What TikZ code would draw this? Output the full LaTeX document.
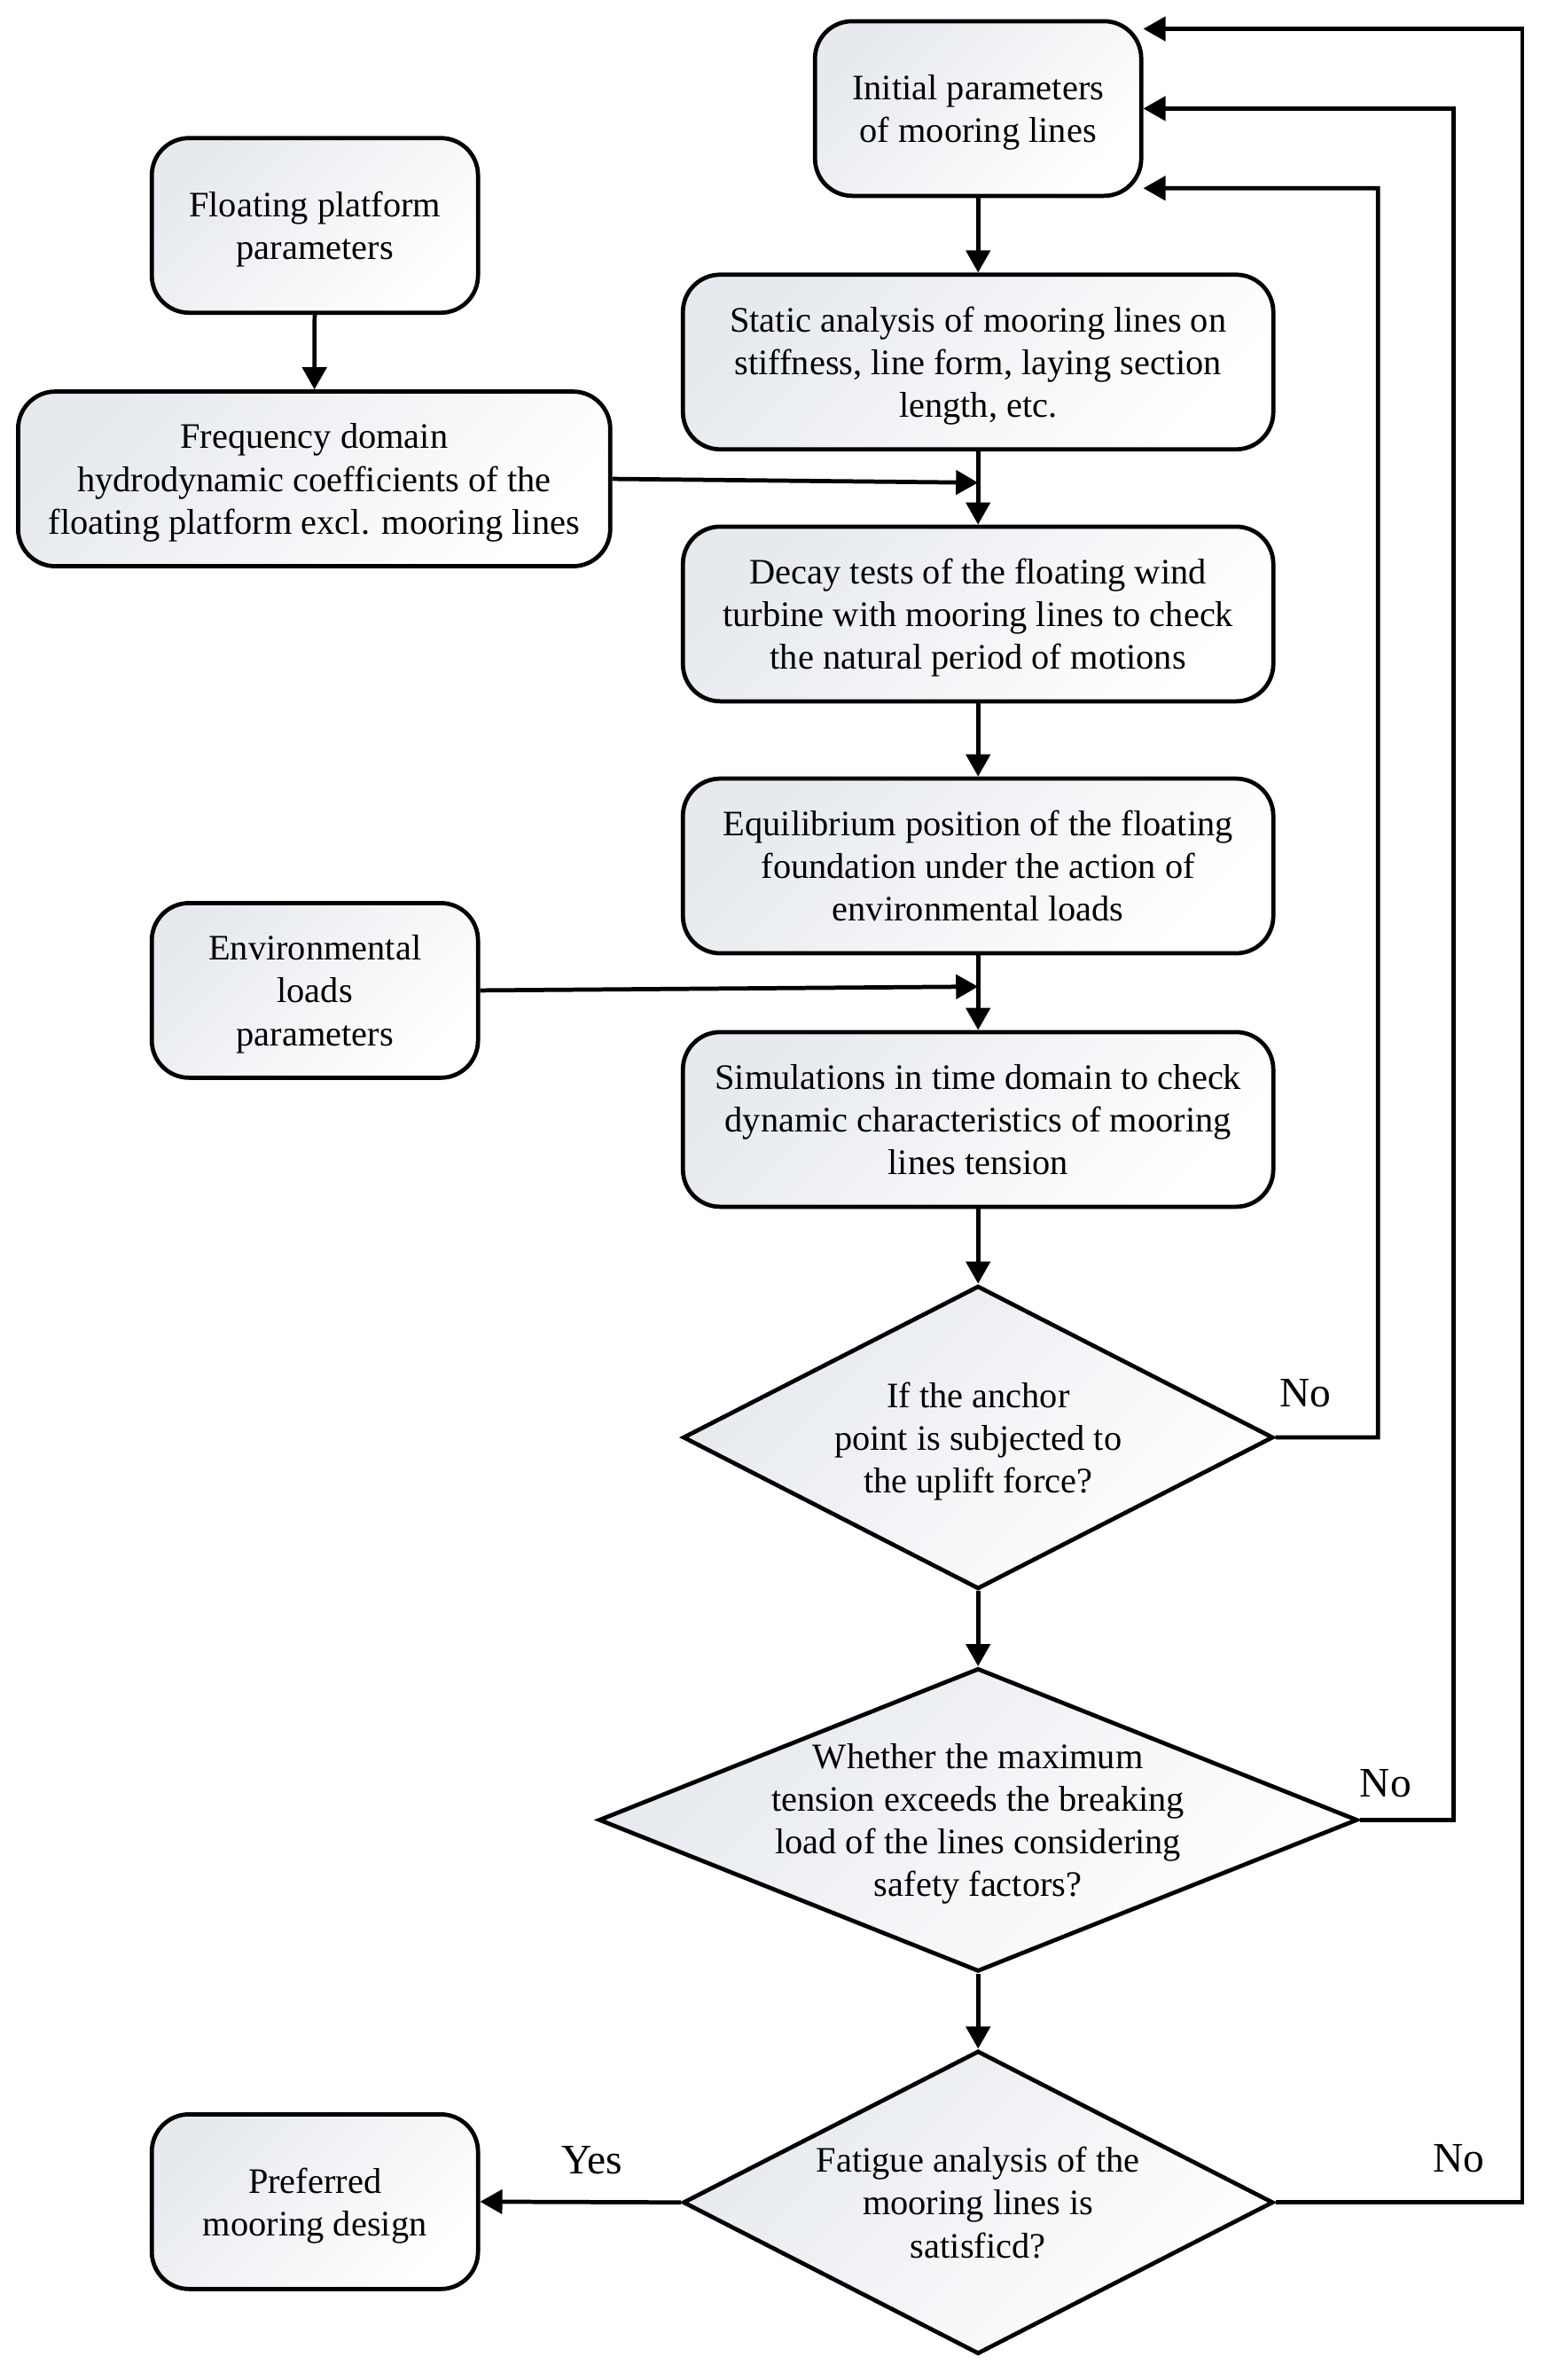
\documentclass[tikz,border=0pt]{standalone}
\usepackage{fontspec}
\setmainfont{Liberation Serif}
\usepackage{xcolor}
\usetikzlibrary{shapes.geometric, arrows.meta, calc}

\definecolor{boxgrey}{HTML}{E6E9EE}

\begin{document}
\begin{tikzpicture}[x=0.017118cm, y=-0.017118cm, line width=1.35pt]

        % 1. Page frame and common looks
        \useasboundingbox (0,0) rectangle (1020,1568);

        \tikzset{
            textfont/.style={font=\fontsize{11.5}{13.7}\selectfont},
            shadebox/.style={top color=boxgrey, middle color=boxgrey!25, bottom color=white, shading angle=45},
            block/.style={draw, rounded corners=0.42cm, align=center, textfont, text depth=0pt,
                inner sep=2pt, minimum height=1.97cm, shadebox},
            smallblock/.style={block, minimum width=3.68cm},
            wideblock/.style={block, minimum width=6.66cm},
            decision/.style={diamond, draw, inner sep=0pt, minimum height=3.42cm, shadebox,
                label={[textfont, align=center, text depth=0pt]center:#1}},
            answer/.style={font=\fontsize{13.5}{16}\selectfont},
            flow/.style={-{Triangle[length=0.25cm, width=0.27cm]}}
        }

        % 2. Main column of the design loop
        \node[smallblock] (init) at (644.5,71.5) {Initial parameters\\of mooring lines};
        \node[wideblock] (static) at (644.5,238.5) {Static analysis of mooring lines on\\stiffness, line form, laying section\\length, etc.};
        \node[wideblock] (decay) at (644.5,404.5) {Decay tests of the floating wind\\turbine with mooring lines to check\\the natural period of motions};
        \node[wideblock] (equil) at (644.5,570.5) {Equilibrium position of the floating\\foundation under the action of\\environmental loads};
        \node[wideblock] (sim) at (644.5,737.5) {Simulations in time domain to check\\dynamic characteristics of mooring\\lines tension};

        % 3. Checks (text sits in a centre label, the diamond keeps its size)
        \node[decision={If the anchor\\point is subjected to\\the uplift force?}, minimum width=6.66cm] (anchor) at (644.5,947) {};
        \node[decision={Whether the maximum\\tension exceeds the breaking\\load of the lines considering\\safety factors?}, minimum width=8.56cm] (tension) at (644.5,1199) {};
        \node[decision={Fatigue analysis of the\\mooring lines is\\satisficd?}, minimum width=6.66cm] (fatigue) at (644.5,1451) {};

        % 4. Inputs on the left and the result
        \node[smallblock] (platform) at (207.5,148.5) {Floating platform\\parameters};
        \node[block, minimum width=6.68cm] (freq) at (207,315.5) {Frequency domain\\hydrodynamic coefficients of the\\floating platform excl. mooring lines};
        \node[smallblock] (env) at (207.5,652.5) {Environmental\\loads\\parameters};
        \node[smallblock] (pref) at (207.5,1450.5) {Preferred\\mooring design};

        % 5. Junctions on the main column and the return rails
        \coordinate (jfreq) at (644.5,318);
        \coordinate (jenv) at (644.5,650);
        \coordinate (in1) at ($(init.east)+(0,52.5)$);
        \coordinate (in2) at (init.east);
        \coordinate (in3) at ($(init.east)+(0,-52.5)$);
        \coordinate (rail1) at (908,124);
        \coordinate (rail2) at (958,71.5);
        \coordinate (rail3) at (1003,19);

        % 6. Straight arrows
        \draw[flow] (init) -- (static);
        \draw[flow] (static) -- (decay);
        \draw[flow] (decay) -- (equil);
        \draw[flow] (equil) -- (sim);
        \draw[flow] (sim) -- (anchor);
        \draw[flow] (anchor) -- (tension);
        \draw[flow] (tension) -- (fatigue);
        \draw[flow] (platform) -- (freq);
        \draw[flow] (freq.east) -- (jfreq);
        \draw[flow] (env.east) -- (jenv);
        \draw[flow] (fatigue.west) -- (pref.east);

        % 7. Return paths (No) back to the initial parameters
        \draw[flow] (anchor.east) -| (rail1) -- (in1);
        \draw[flow] (tension.east) -| (rail2) -- (in2);
        \draw[flow] (fatigue.east) -| (rail3) -- (in3);

        % 8. Answers
        \node[answer] (no1) at (860,918) {No};
        \node[answer] (no2) at (913,1175) {No};
        \node[answer] (no3) at (961,1422) {No};
        \node[answer] (yes) at (390,1423) {Yes};

    \end{tikzpicture}
\end{document}
